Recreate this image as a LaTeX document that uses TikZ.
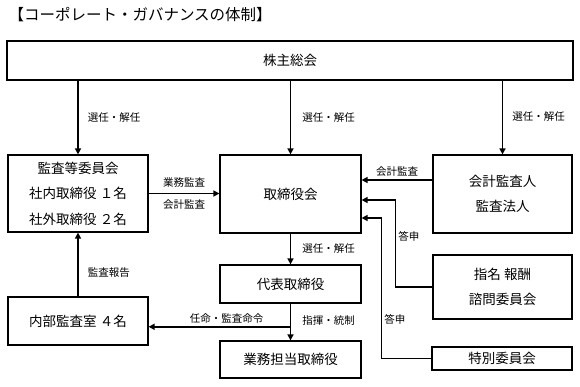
\documentclass[tikz,border=0pt]{standalone}
\usepackage{fontspec}
\setmainfont{Noto Sans CJK JP}
\usetikzlibrary{positioning,arrows.meta,calc}

\begin{document}
\begin{tikzpicture}[x=1pt,y=-1pt,
  bx/.style 2 args={draw, line width=1.2pt, minimum width=#1, minimum height=#2,
             inner sep=0pt, align=center, font=\fontsize{13.5}{25.5}\selectfont},
  ar/.style={-{Triangle[length=6pt,width=6pt]}, line width=1.7pt},
  lb/.style={font=\fontsize{10.5}{12}\selectfont, inner sep=1pt}
]
\useasboundingbox (0,0) rectangle (580,387);

\node[font=\fontsize{15.5}{17}\selectfont, anchor=west] (ttl) at (5,15)
  {【コーポレート・ガバナンスの体制】};

% boxes
\node[bx={566pt}{39pt}]  (GM) at (290,60.5)  {株主総会};
\node[bx={140pt}{77pt}]  (AC) at (78,193.5)  {監査等委員会\\社内取締役 １名\\社外取締役 ２名};
\node[bx={141pt}{78pt}]  (BD) at (290.5,194) {取締役会};
\node[bx={139pt}{78pt}]  (AU) at (502.5,194) {会計監査人\\監査法人};
\node[bx={139pt}{64pt}]  (NR) at (502.5,287) {指名 報酬\\諮問委員会};
\node[bx={140pt}{23pt}]  (SP) at (502,358.5) {特別委員会};
\node[bx={141pt}{38pt}]  (RP) at (290.5,284) {代表取締役};
\node[bx={141pt}{37pt}]  (EX) at (290.5,359.5) {業務担当取締役};
\node[bx={140pt}{48pt}]  (IA) at (78,321)    {内部監査室 ４名};

% general meeting
\draw[ar] (AC.north |- GM.south) -- node[lb,right=8pt,pos=0.5] {選任・解任} (AC.north);
\draw[ar] (BD.north |- GM.south) -- node[lb,right=10pt,pos=0.5] {選任・解任} (BD.north);
\draw[ar] (AU.north |- GM.south) -- node[lb,right=8pt,pos=0.48] {選任・解任} (AU.north);

% audits
\draw[ar] (AC.east) -- node[lb,above=4pt] {業務監査} node[lb,below=4pt] {会計監査}
  (AC.east -| BD.west);
\draw[ar] ([yshift=14pt]AU.west) -- node[lb,above=2pt] {会計監査} ([yshift=14pt]BD.east);

% committees
\draw[ar] (NR.west) -- ++(-37,0) |- node[lb,right=1pt,pos=0.29] {答申}
  ([yshift=-6pt]BD.east);
\draw[ar] (SP.west) -- ++(-50,0) |- node[lb,right=1pt,pos=0.14] {答申}
  ([yshift=-24pt]BD.east);

% executives
\draw[ar] (BD.south) -- node[lb,right=10pt] {選任・解任} (RP.north);
\draw[ar] (RP.south) -- node[lb,right=10pt,pos=0.45] {指揮・統制} (EX.north);
\coordinate (br) at ($(RP.south)!0.63!(EX.north)$);
\draw[ar] (br) -- node[lb,above=2pt,pos=0.45] {任命・監査命令} (br -| IA.east);
\draw[ar] (IA.north) -- node[lb,right=8pt,pos=0.38] {監査報告} (AC.south);
\end{tikzpicture}
\end{document}
